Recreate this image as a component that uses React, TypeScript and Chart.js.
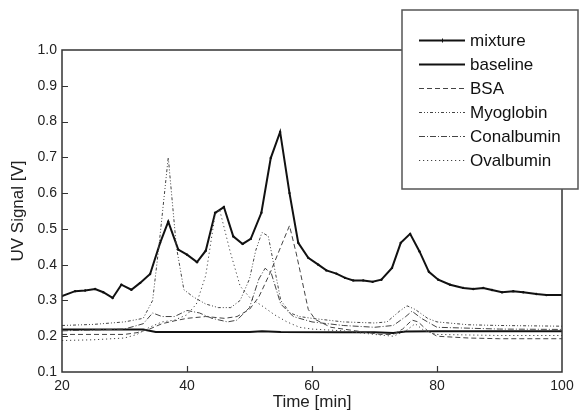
import React, { useEffect, useRef } from "react";
import { Chart, registerables } from "chart.js";

Chart.register(...registerables);

// ---------- data ----------
const xTickValues = [20, 40, 60, 80, 100];
const yTickValues = [0.1, 0.2, 0.3, 0.4, 0.5, 0.6, 0.7, 0.8, 0.9, 1.0];
const seriesNames = ["mixture", "baseline", "BSA", "Myoglobin", "Conalbumin", "Ovalbumin"];

const mixtureTime = [20, 22.1, 23.7, 25.3, 26.6, 28.1, 29.5, 31.1, 32.5, 34.1, 35.7, 37.0, 38.6, 40.0, 41.6, 43.0, 44.5, 45.9, 47.4, 48.9, 50.2, 51.9, 53.4, 54.9, 56.4, 57.8, 59.4, 61.0, 62.3, 63.9, 65.3, 66.6, 68.2, 69.7, 71.1, 72.8, 74.2, 75.7, 77.2, 78.7, 80.2, 82.1, 84.2, 85.8, 87.4, 88.8, 90.4, 92.2, 93.8, 95.9, 97.5, 100];
const mixtureSignal = [0.312, 0.326, 0.328, 0.332, 0.323, 0.307, 0.344, 0.330, 0.349, 0.374, 0.461, 0.520, 0.442, 0.428, 0.407, 0.439, 0.545, 0.561, 0.479, 0.458, 0.472, 0.545, 0.698, 0.771, 0.600, 0.461, 0.419, 0.400, 0.384, 0.375, 0.363, 0.356, 0.356, 0.352, 0.358, 0.391, 0.461, 0.486, 0.437, 0.380, 0.358, 0.344, 0.335, 0.332, 0.335, 0.329, 0.323, 0.326, 0.323, 0.318, 0.315, 0.315];

const baselineTime = [20, 30, 33, 35, 45, 50, 52, 55, 65, 70, 73, 75, 80, 90, 100];
const baselineSignal = [0.219, 0.219, 0.219, 0.212, 0.212, 0.212, 0.214, 0.212, 0.211, 0.211, 0.209, 0.213, 0.214, 0.214, 0.214];

const bsaTime = [20, 30, 32, 34, 36, 38, 40, 43, 46, 48, 50, 51.5, 53.3, 55, 56.4, 57.5, 59.4, 60.5, 63, 67, 71, 73, 74.5, 76, 77, 78.5, 80, 85, 90, 100];
const bsaSignal = [0.205, 0.205, 0.21, 0.22, 0.235, 0.243, 0.25, 0.255, 0.25, 0.255, 0.275, 0.31, 0.377, 0.45, 0.509, 0.43, 0.275, 0.247, 0.225, 0.215, 0.205, 0.205, 0.22, 0.245, 0.24, 0.215, 0.2, 0.195, 0.193, 0.193];

const myoglobinTime = [20, 25, 30, 33, 34.5, 35.5, 37, 38.3, 39.5, 41, 43, 45, 47, 48.5, 50, 51, 52, 53, 54, 55, 56.5, 58, 60, 65, 70, 72, 74, 75.2, 76.5, 78.5, 80, 85, 90, 100];
const myoglobinSignal = [0.23, 0.233, 0.24, 0.25, 0.3, 0.45, 0.70, 0.45, 0.33, 0.31, 0.29, 0.28, 0.28, 0.30, 0.36, 0.44, 0.49, 0.48, 0.39, 0.30, 0.265, 0.255, 0.25, 0.24, 0.237, 0.24, 0.27, 0.285, 0.275, 0.25, 0.24, 0.232, 0.23, 0.228];

const conalbuminTime = [20, 30, 33, 34.5, 36, 38, 40, 42, 44, 46.5, 48, 50, 51.5, 52.5, 53.5, 55, 57, 60, 65, 70, 73, 75, 76, 77.5, 80, 90, 100];
const conalbuminSignal = [0.215, 0.22, 0.235, 0.265, 0.255, 0.255, 0.272, 0.265, 0.25, 0.24, 0.245, 0.28, 0.36, 0.39, 0.375, 0.29, 0.255, 0.24, 0.23, 0.225, 0.23, 0.255, 0.27, 0.25, 0.225, 0.22, 0.219];

const ovalbuminTime = [20, 25, 30, 32, 34, 36, 38, 40, 41.5, 43, 44.5, 45.2, 46.9, 48.5, 50.1, 52, 54, 56, 58, 60, 65, 70, 73, 75, 76.5, 78, 80, 90, 100];
const ovalbuminSignal = [0.188, 0.19, 0.195, 0.205, 0.225, 0.24, 0.245, 0.26, 0.29, 0.37, 0.54, 0.555, 0.437, 0.34, 0.307, 0.285, 0.26, 0.24, 0.225, 0.22, 0.215, 0.205, 0.2, 0.215, 0.235, 0.215, 0.205, 0.202, 0.202];

// ---------- styles ----------
const FONT = "'Liberation Sans', Arial, Helvetica, sans-serif";
const styles: Record<string, { color: string; width: number; dash: number[] }> = {
  mixture: { color: "#111", width: 2, dash: [] },
  baseline: { color: "#111", width: 2, dash: [] },
  BSA: { color: "#444", width: 1, dash: [5, 3] },
  Myoglobin: { color: "#444", width: 1, dash: [3, 2, 1, 2, 1, 2] },
  Conalbumin: { color: "#444", width: 1, dash: [6, 2, 1, 2] },
  Ovalbumin: { color: "#444", width: 1, dash: [1.2, 2.8] },
};

const pts = (t: number[], v: number[]) => t.map((x, i) => ({ x, y: v[i] }));

const framePlugin = {
  id: "frameAndLegend",
  afterDraw(chart: any) {
    const { ctx, chartArea } = chart;
    const { left, top, right, bottom } = chartArea;
    const xs = chart.scales.x;
    const ys = chart.scales.y;
    ctx.save();
    // frame
    ctx.strokeStyle = "#333";
    ctx.lineWidth = 1.5;
    ctx.setLineDash([]);
    ctx.strokeRect(left, top, right - left, bottom - top);
    // inner ticks
    ctx.lineWidth = 1.2;
    ctx.beginPath();
    xTickValues.slice(1, -1).forEach((t) => {
      const px = Math.round(xs.getPixelForValue(t)) + 0.5;
      ctx.moveTo(px, bottom);
      ctx.lineTo(px, bottom - 6);
    });
    yTickValues.slice(1, -1).forEach((v) => {
      const py = Math.round(ys.getPixelForValue(v)) + 0.5;
      ctx.moveTo(left, py);
      ctx.lineTo(left + 6, py);
    });
    ctx.stroke();

    // legend box
    const bx = 402, by = 10, bw = 176, bh = 179;
    ctx.fillStyle = "#fff";
    ctx.fillRect(bx, by, bw, bh);
    ctx.strokeStyle = "#555";
    ctx.lineWidth = 1.5;
    ctx.strokeRect(bx, by, bw, bh);
    ctx.font = `17px ${FONT}`;
    ctx.textBaseline = "middle";
    ctx.textAlign = "left";
    seriesNames.forEach((name, i) => {
      const s = styles[name];
      const y = 40 + i * 24;
      ctx.strokeStyle = s.color;
      ctx.lineWidth = s.width;
      ctx.setLineDash(s.dash);
      ctx.beginPath();
      ctx.moveTo(419, y + 0.5);
      ctx.lineTo(465, y + 0.5);
      ctx.stroke();
      if (name === "mixture") {
        ctx.setLineDash([]);
        ctx.lineWidth = 1;
        ctx.beginPath();
        ctx.moveTo(442.5, y - 1.5);
        ctx.lineTo(442.5, y + 2.5);
        ctx.stroke();
      }
      ctx.setLineDash([]);
      ctx.fillStyle = "#111";
      ctx.fillText(name, 470, y + 1);
    });
    ctx.restore();
  },
};

export default function App() {
  const ref = useRef<HTMLCanvasElement | null>(null);
  useEffect(() => {
    if (!ref.current) return;
    const mk = (name: string, t: number[], v: number[], extra: any = {}) => ({
      label: name,
      data: pts(t, v),
      borderColor: styles[name].color,
      backgroundColor: styles[name].color,
      borderWidth: styles[name].width,
      borderDash: styles[name].dash,
      pointRadius: 0,
      tension: 0,
      fill: false,
      ...extra,
    });
    const chart = new Chart(ref.current, {
      type: "line",
      data: {
        datasets: [
          mk("Ovalbumin", ovalbuminTime, ovalbuminSignal),
          mk("Conalbumin", conalbuminTime, conalbuminSignal),
          mk("Myoglobin", myoglobinTime, myoglobinSignal),
          mk("BSA", bsaTime, bsaSignal),
          mk("baseline", baselineTime, baselineSignal),
          mk("mixture", mixtureTime, mixtureSignal, { pointRadius: 1.2, pointBorderWidth: 0 }),
        ],
      },
      options: {
        responsive: false,
        animation: false,
        layout: { padding: { left: 0, top: 50, right: 18, bottom: 0 } },
        plugins: { legend: { display: false }, tooltip: { enabled: false } },
        scales: {
          x: {
            type: "linear",
            min: 20,
            max: 100,
            afterFit: (s: any) => { s.height = 48; },
            afterBuildTicks: (s: any) => { s.ticks = xTickValues.map((v) => ({ value: v })); },
            grid: { display: false, drawTicks: false },
            border: { display: false },
            ticks: { padding: 6, color: "#222", font: { family: FONT, size: 14 }, maxRotation: 0, callback: (v: any) => String(v) },
            title: { display: true, text: "Time [min]", color: "#222", font: { family: FONT, size: 17 }, padding: { top: 0, bottom: 7 } },
          },
          y: {
            type: "linear",
            min: 0.1,
            max: 1.0,
            afterFit: (s: any) => { s.width = 62; },
            afterBuildTicks: (s: any) => { s.ticks = yTickValues.map((v) => ({ value: v })); },
            grid: { display: false, drawTicks: false },
            border: { display: false },
            ticks: { padding: 5, color: "#222", font: { family: FONT, size: 14 }, callback: (v: any) => Number(v).toFixed(1) },
            title: { display: true, text: "UV Signal [V]", color: "#222", font: { family: FONT, size: 17 }, padding: { top: 8, bottom: 0 } },
          },
        },
      },
      plugins: [framePlugin],
    } as any);
    return () => chart.destroy();
  }, []);
  return (
    <div style={{ position: "fixed", left: 0, top: 0, width: 580, height: 420, background: "#fff" }}>
      <canvas ref={ref} width={580} height={420} style={{ display: "block", width: 580, height: 420 }} />
    </div>
  );
}
